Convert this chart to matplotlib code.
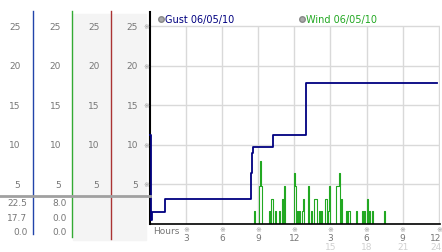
import matplotlib
matplotlib.use('Agg')
import matplotlib.pyplot as plt
from matplotlib.transforms import blended_transform_factory
from matplotlib.patches import Rectangle
from matplotlib.lines import Line2D
import numpy as np

# scale shown in every left column
scale_ticks = [5, 10, 15, 20, 25]
# max / last / min under the scale
gust_stats = ['22.5', '17.7', '0.0']
wind_stats = ['8.0', '0.0', '0.0']

hour_ticks = [3, 6, 9, 12, 15, 18, 21, 24]
hour_labels = ['3', '6', '9', '12', '3', '6', '9', '12']
hour_labels2 = ['', '', '', '', '15', '18', '21', '24']

legend_labels = ['Gust 06/05/10', 'Wind 06/05/10']

# gust (step line), hours since midnight
gust_hours = [0.0, 0.1, 0.15, 0.2, 1.25, 8.38, 8.46, 8.55, 10.2, 12.97, 23.85]
gust_mph = [11.3, 0.5, 0.9, 1.5, 3.2, 6.5, 9.0, 9.7, 11.2, 17.8, 17.8]

# wind readings that were not zero (5 min samples)
wind_hours = [8.67, 9.08, 9.17, 9.25, 9.92, 10.08, 10.17, 10.42,
              10.75, 11.0, 11.17, 12.0, 12.08, 12.25, 12.42,
              12.67, 12.75, 13.17, 13.42, 13.67, 13.75, 13.83,
              14.08, 14.25, 14.58, 14.67, 14.83, 14.92, 15.42,
              15.5, 15.58, 15.67, 15.83, 16.25, 16.42, 16.5, 17.08,
              17.58, 17.75, 18.0, 18.17, 18.42, 19.42]
wind_mph = [1.6, 4.8, 8.0, 4.8, 1.6, 3.2, 3.2, 1.6,
            1.6, 3.2, 4.8, 6.4, 4.8, 1.6, 1.6,
            1.6, 3.2, 4.8, 1.6, 3.2, 3.2, 3.2,
            1.6, 1.6, 3.2, 3.2, 1.6, 4.8, 4.8,
            4.8, 4.8, 6.4, 3.2, 1.6, 1.6, 1.6, 1.6,
            1.6, 1.6, 3.2, 1.6, 1.6, 1.6]

GUST_C = '#000080'
WIND_C = '#22a822'
MARK = '\u203b'
MARK_FONT = ['DejaVu Sans', 'Noto Sans CJK JP']

W, H = 442, 253
fig = plt.figure(figsize=(W / 100, H / 100), dpi=100)


def fx(px):
    return px / W


def fy(py):
    return 1 - py / H


ax = fig.add_axes([fx(150), fy(225), fx(440) - fx(150), fy(13) - fy(225)])
ax.set_xlim(0, 24.1)
ax.set_ylim(0, 26.8)
ax.set_xticks([])
ax.set_yticks([])
for s in ['top', 'right']:
    ax.spines[s].set_visible(False)
ax.spines['left'].set_linewidth(1.5)
ax.spines['bottom'].set_linewidth(1.2)

# grid
ax.hlines(scale_ticks, 0, 24.1, color='#d9d9d9', lw=1, zorder=0)
ax.vlines(hour_ticks, 0, 25, color='#d9d9d9', lw=1, zorder=0)

# wind on a 5 min grid
t = np.arange(0, 24 * 12 + 1) / 12
v = np.zeros_like(t)
for h, s in zip(wind_hours, wind_mph):
    v[int(round(h * 12))] = s
ax.plot(t, v, color=WIND_C, lw=0.8, drawstyle='steps-post', zorder=2)

ax.plot(gust_hours, gust_mph, color=GUST_C, lw=1.3, drawstyle='steps-post',
        zorder=3, clip_on=False)

# legend
for lab, col, x in zip(legend_labels, [GUST_C, WIND_C], [161, 302]):
    fig.add_artist(Line2D([fx(x)], [fy(20)], marker='o', ms=4, ls='',
                          color='#aaaaaa', mec='#888888', transform=fig.transFigure))
    fig.text(fx(x + 4), fy(20), lab, color=col, fontsize=7, va='center', ha='left')

# left columns
for x0, x1 in [(73, 111), (112, 146)]:
    fig.add_artist(Rectangle((fx(x0), fy(241)), fx(x1) - fx(x0), fy(15) - fy(241),
                             transform=fig.transFigure, color='#f4f4f4', zorder=-1))
for x, col, y1 in [(33.3, '#2244aa', 235), (72.3, '#33aa33', 238), (111.3, '#aa3333', 240)]:
    fig.add_artist(Line2D([fx(x)] * 2, [fy(12), fy(y1)], color=col, lw=1,
                          transform=fig.transFigure))
fig.add_artist(Line2D([0, fx(150)], [fy(197)] * 2, color='#a0a0a0', lw=2,
                      transform=fig.transFigure))

trans = blended_transform_factory(fig.transFigure, ax.transData)
for tk in scale_ticks:
    for xr in [20.5, 61, 99.5, 138]:
        fig.text(fx(xr), tk, str(tk), transform=trans, fontsize=6.5, color='#777777',
                 ha='right', va='center')
    fig.text(fx(146.5), tk, MARK, transform=trans, fontsize=5, color='#999999',
             ha='center', va='center', family=MARK_FONT)

for i, (g, w) in enumerate(zip(gust_stats, wind_stats)):
    y = 204 + i * 14.2
    fig.text(fx(27.5), fy(y), g, fontsize=6.5, color='#777777', ha='right', va='center')
    fig.text(fx(66.5), fy(y), w, fontsize=6.5, color='#777777', ha='right', va='center')

# hours axis
xtrans = blended_transform_factory(ax.transData, fig.transFigure)
fig.text(fx(153), fy(232), 'Hours', fontsize=6.5, color='#777777', ha='left', va='center')
for h, l1, l2 in zip(hour_ticks, hour_labels, hour_labels2):
    ha = 'right' if h == hour_ticks[-1] else 'center'
    dx = 0.25 if h == hour_ticks[-1] else 0
    fig.text(h, fy(230), MARK, transform=xtrans, fontsize=5, color='#999999',
             ha='center', va='center', family=MARK_FONT)
    fig.text(h + dx, fy(239), l1, transform=xtrans, fontsize=6.5, color='#777777',
             ha=ha, va='center')
    if l2:
        fig.text(h + dx, fy(247.5), l2, transform=xtrans, fontsize=6.5, color='#d0d0d0',
                 ha=ha, va='center')

fig.savefig('out.png', dpi=100)
